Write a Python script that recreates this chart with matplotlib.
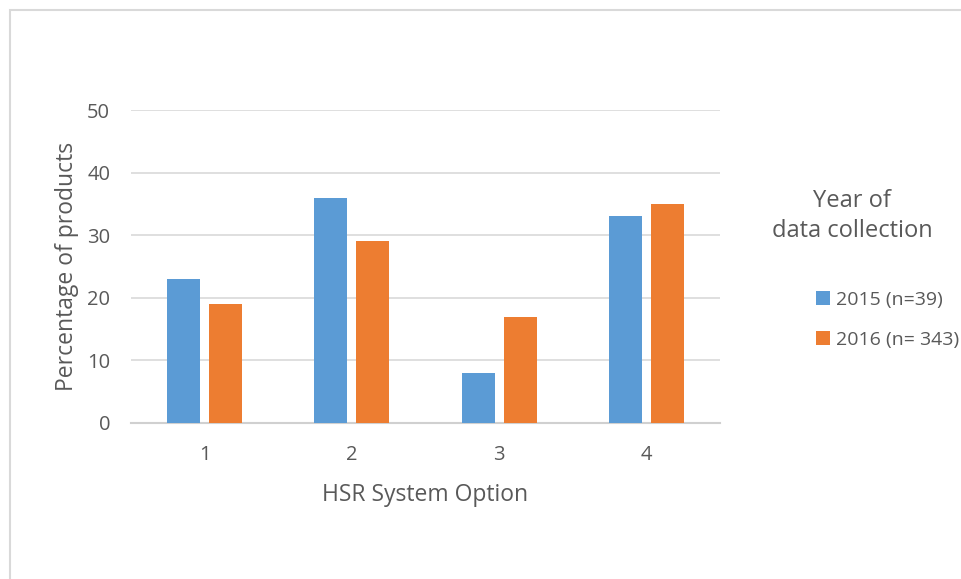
import matplotlib.pyplot as plt
import numpy as np
from matplotlib.patches import Rectangle

plt.rcParams['font.family'] = ['Open Sans', 'DejaVu Sans']

# Percentage of products per HSR system option
options = ['1', '2', '3', '4']
pct_2015 = [23, 36, 8, 33]
pct_2016 = [19, 29, 17, 35]
series_labels = ['2015 (n=39)', '2016 (n= 343)']

blue = '#5b9bd5'
orange = '#ed7d31'
text_col = '#595959'

fig = plt.figure(figsize=(9.62, 5.79), dpi=100)
W, H = 962, 579

# thin grey frame around the chart area
fig.patches.append(Rectangle((10 / W, -0.05), 1.1, 1 - 10 / H + 0.05,
                             transform=fig.transFigure, fill=False,
                             edgecolor='#d9d9d9', linewidth=1.5))

ax = fig.add_axes([131 / W, 1 - 423 / H, (720 - 131) / W, (423 - 110) / H])

x = np.arange(len(options))
w = 0.224
off = 0.143
b1 = ax.bar(x - off, pct_2015, width=w, color=blue, label=series_labels[0], zorder=3)
b2 = ax.bar(x + off, pct_2016, width=w, color=orange, label=series_labels[1], zorder=3)

ax.set_xlim(-0.5, 3.5)
ax.set_ylim(0, 50)
ax.set_yticks(range(0, 51, 10))
ax.set_xticks(x)
ax.set_xticklabels(options)
ax.yaxis.grid(True, color='#d9d9d9', linewidth=1.2, zorder=0)
for s in ['top', 'right', 'left']:
    ax.spines[s].set_visible(False)
ax.spines['bottom'].set_color('#d0d0d0')
ax.spines['bottom'].set_linewidth(1.5)
ax.tick_params(length=0, labelsize=14.5, colors=text_col)
ax.tick_params(axis='y', pad=15)
ax.tick_params(axis='x', pad=16)

ax.set_xlabel('HSR System Option', fontsize=16.5, color=text_col, labelpad=13)
ax.set_ylabel('Percentage of products', fontsize=16.5, color=text_col, labelpad=6)

fig.text(852 / W, 1 - 216 / H, 'Year of\ndata collection', ha='center', va='center',
         fontsize=17, color=text_col, linespacing=1.38)

fig.legend(handles=[b1, b2], loc='upper left', bbox_to_anchor=(806 / W, 1 - 281 / H),
           frameon=False, fontsize=14, labelcolor=text_col, handlelength=0.75,
           handleheight=0.75, handletextpad=0.3, labelspacing=1.15, borderpad=0)

fig.savefig('out.png', dpi=100)
